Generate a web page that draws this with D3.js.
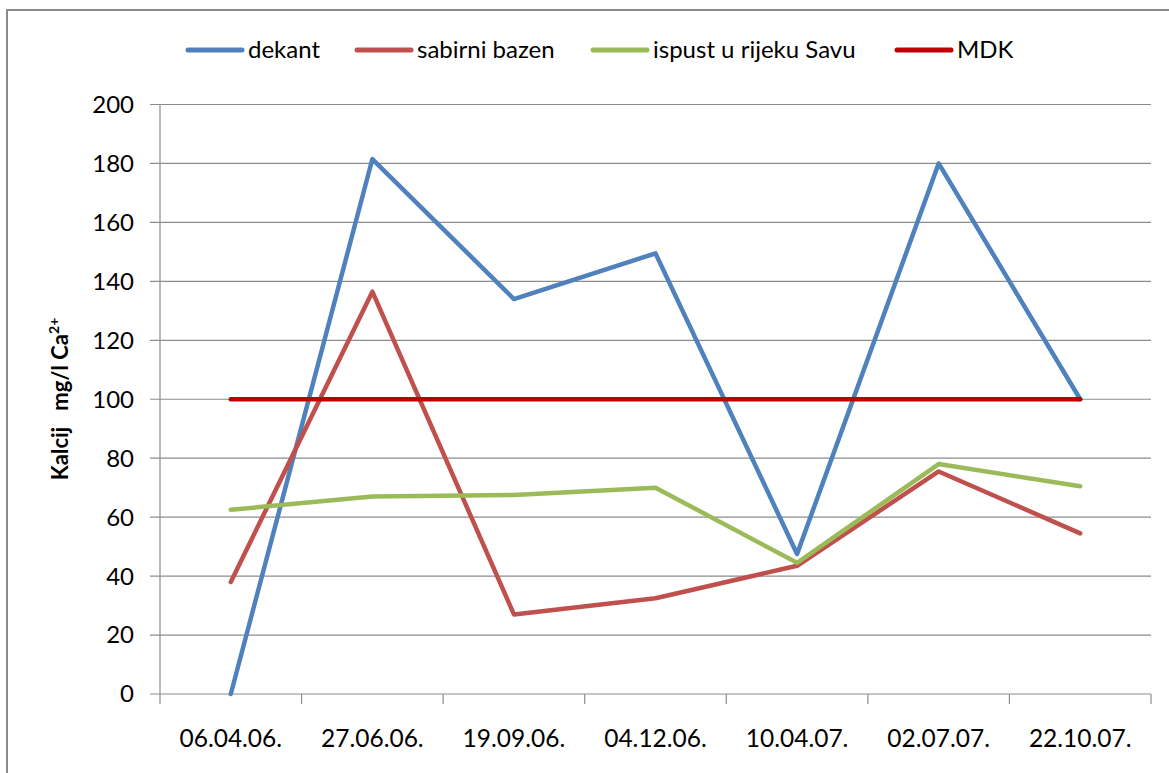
<!DOCTYPE html>
<html><head><meta charset="utf-8">
<script src="https://cdn.jsdelivr.net/npm/d3@7"></script>
<style>body{margin:0;background:#fff;} svg{display:block;}</style>
</head><body>
<svg id="c" width="1169" height="773"></svg>
<script>
const categories = ["06.04.06.","27.06.06.","19.09.06.","04.12.06.","10.04.07.","02.07.07.","22.10.07."];
const dekant = [0,181.5,134,149.5,47.5,180,100];
const sabirniBazen = [38,136.5,27,32.5,43.5,75.5,54.5];
const ispust = [62.5,67,67.5,70,44.5,78,70.5];
const mdk = [100,100,100,100,100,100,100];
const seriesNames = ["dekant","sabirni bazen","ispust u rijeku Savu","MDK"];
const seriesColors = ["#4F81BD","#C0504D","#9BBB59","#C00000"];
const yTicks = [0,20,40,60,80,100,120,140,160,180,200];

const svg = d3.select("#c");
const font = "Lato, 'Open Sans', sans-serif";
// outer border
svg.append("rect").attr("x",7).attr("y",10).attr("width",1180).attr("height",780)
  .attr("fill","none").attr("stroke","#8a8a8a").attr("stroke-width",2);

const L=160,R=1151,T=104.5,B=694;
const x = d3.scaleBand().domain(categories).range([L,R]);
const y = d3.scaleLinear().domain([0,200]).range([B,T]);

// gridlines
svg.append("g").selectAll("line").data(yTicks).join("line")
  .attr("x1",L-10).attr("x2",R).attr("y1",d=>y(d)).attr("y2",d=>y(d))
  .attr("stroke","#8c8c8c").attr("stroke-width",1.2);
// y axis line
svg.append("line").attr("x1",L).attr("x2",L).attr("y1",T).attr("y2",B+10)
  .attr("stroke","#8c8c8c").attr("stroke-width",1.2);
// x ticks at band boundaries
const bounds = categories.map(c=>x(c)).concat([R]);
svg.append("g").selectAll("line").data(bounds.slice(1)).join("line")
  .attr("x1",d=>d).attr("x2",d=>d).attr("y1",B).attr("y2",B+10)
  .attr("stroke","#8c8c8c").attr("stroke-width",1.2);
// y labels
svg.append("g").selectAll("text").data(yTicks).join("text")
  .attr("x",134).attr("y",d=>y(d)).attr("dy","0.35em").attr("text-anchor","end")
  .attr("font-family",font).attr("font-size",24).attr("fill","#000").text(d=>d);
// x labels
svg.append("g").selectAll("text").data(categories).join("text")
  .attr("x",d=>x(d)+x.bandwidth()/2).attr("y",747).attr("text-anchor","middle")
  .attr("font-family",font).attr("font-size",24.5).attr("fill","#000").text(d=>d);
// y title
const yt = svg.append("text").attr("transform","translate(68,399) rotate(-90)")
  .attr("text-anchor","middle").attr("font-family",font).attr("font-size",22)
  .attr("font-weight","bold").attr("fill","#000");
yt.append("tspan").text("Kalcij\u00a0\u00a0\u00a0mg/l Ca");
yt.append("tspan").attr("font-size",14).attr("dy",-9).text("2+");

// series
const data = [dekant,sabirniBazen,ispust,mdk];
const line = d3.line().x((d,i)=>x(categories[i])+x.bandwidth()/2).y(d=>y(d));
data.forEach((s,k)=>{
  svg.append("path").attr("d",line(s)).attr("fill","none")
    .attr("stroke",seriesColors[k]).attr("stroke-width",4.5)
    .attr("stroke-linejoin","round").attr("stroke-linecap","round");
});

// legend
const legX = [188,357,593,897];
seriesNames.forEach((n,k)=>{
  svg.append("line").attr("x1",legX[k]).attr("x2",legX[k]+54).attr("y1",50).attr("y2",50)
    .attr("stroke",seriesColors[k]).attr("stroke-width",5).attr("stroke-linecap","round");
  svg.append("text").attr("x",legX[k]+60).attr("y",50).attr("dy","0.35em")
    .attr("font-family",font).attr("font-size",24).attr("fill","#000").text(n);
});
</script>
</body></html>
